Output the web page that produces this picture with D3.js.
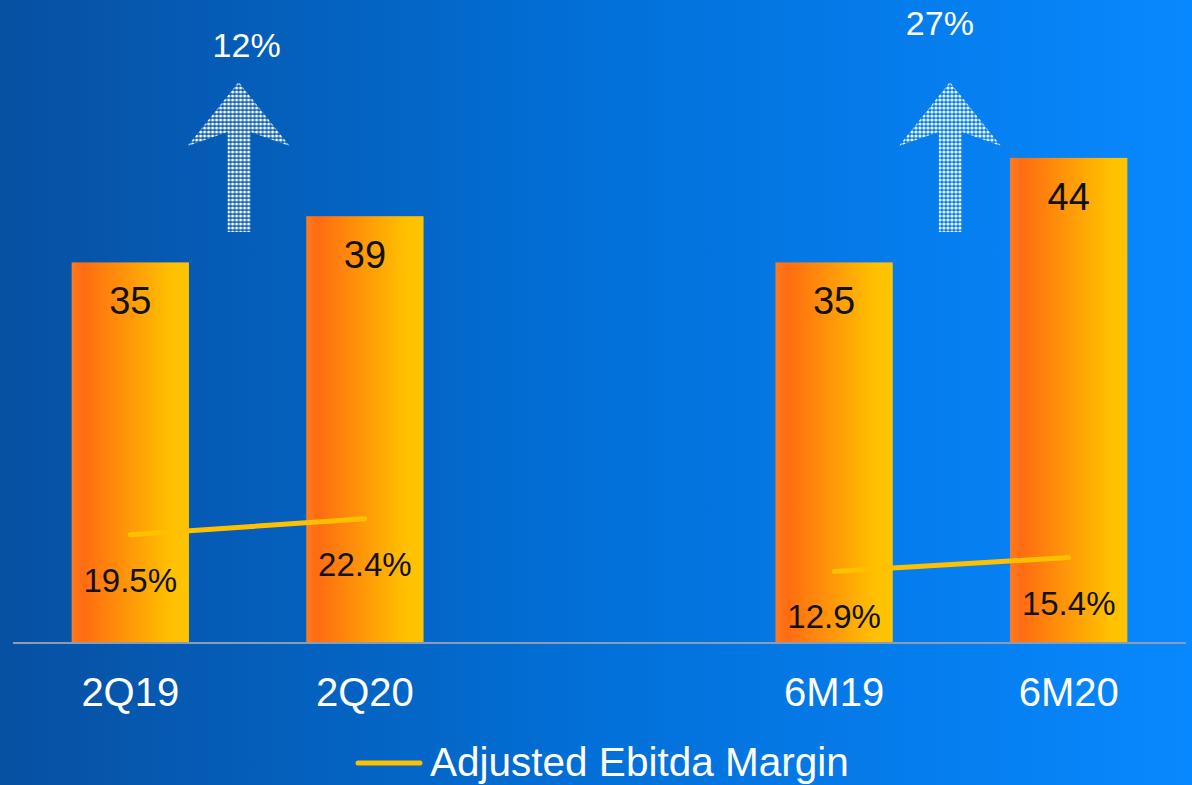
<!DOCTYPE html>
<html>
<head>
<meta charset="utf-8">
<script src="https://cdn.jsdelivr.net/npm/d3@7"></script>
<style>
  html, body { margin:0; padding:0; overflow:hidden; }
  text { font-family: "Liberation Sans", Arial, sans-serif; }
</style>
</head>
<body>
<div id="chart"></div>
<script>
var w=1192
var h=785

// categories (blank one is the gap between quarter and half year)
var categories=["2Q19","2Q20","","6M19","6M20"];
var ebitda=[34.6,38.8,null,34.6,44.1];
var margin=[19.5,22.4,null,12.9,15.4];
var growthLabels=["12%","27%"];
var growthPairs=[["2Q19","2Q20"],["6M19","6M20"]];
var legendLabel="Adjusted Ebitda Margin";

var rows=categories.map(function(c,i) {return {cat:c,value:ebitda[i],margin:margin[i]};});

var svg=d3.select("#chart")
          .append("svg")
          .attr("width",w)
          .attr("height",h);

var defs=svg.append("defs");

//background gradient
var bg=defs.append("linearGradient").attr("id","bg").attr("x1","0").attr("x2","1").attr("y1","0").attr("y2","0");
bg.append("stop").attr("offset","0%").attr("stop-color","#0750a2");
bg.append("stop").attr("offset","50%").attr("stop-color","#0270d8");
bg.append("stop").attr("offset","100%").attr("stop-color","#0888fe");

//bar gradient
var bar=defs.append("linearGradient").attr("id","barGrad").attr("x1","0").attr("x2","1").attr("y1","0").attr("y2","0");
bar.append("stop").attr("offset","0%").attr("stop-color","#ff7a1e");
bar.append("stop").attr("offset","10%").attr("stop-color","#ff6c12");
bar.append("stop").attr("offset","85%").attr("stop-color","#ffc000");
bar.append("stop").attr("offset","100%").attr("stop-color","#ffc400");

//dotted pattern for the arrows
var pat=defs.append("pattern").attr("id","dots").attr("patternUnits","userSpaceOnUse")
            .attr("width",4).attr("height",4);
pat.append("circle").attr("cx",2).attr("cy",2).attr("r",1.55).attr("fill","#ffffff");

svg.append("rect").attr("width",w).attr("height",h).attr("fill","url(#bg)");

//scales
var xScale=d3.scaleBand()
             .domain(categories)
             .range([13,1186])
             .paddingInner(0.5)
             .paddingOuter(0.25);
var yScale=d3.scaleLinear()
             .domain([0,50])
             .range([643,93]);
var y2Scale=d3.scaleLinear()
              .domain([0,100])
              .range([643,88]);

//bars
svg.selectAll("rect.bar")
   .data(rows.filter(function(d) {return d.value!=null;}))
   .enter()
   .append("rect")
   .attr("class","bar")
   .attr("x",function(d) {return xScale(d.cat);})
   .attr("y",function(d) {return yScale(d.value);})
   .attr("width",xScale.bandwidth())
   .attr("height",function(d) {return yScale(0)-yScale(d.value);})
   .attr("fill","url(#barGrad)");

//value labels
svg.selectAll("text.val")
   .data(rows.filter(function(d) {return d.value!=null;}))
   .enter()
   .append("text")
   .attr("class","val")
   .attr("x",function(d) {return xScale(d.cat)+xScale.bandwidth()/2;})
   .attr("y",function(d) {return yScale(d.value)+52;})
   .attr("text-anchor","middle")
   .attr("font-size","38px")
   .attr("fill","#111")
   .text(function(d) {return d3.format(".0f")(d.value);});

//x axis
var xAxis=d3.axisBottom(xScale).tickSize(0).tickPadding(35);
var gx=svg.append("g")
          .attr("transform","translate(0,"+yScale(0)+")")
          .call(xAxis);
gx.select(".domain").attr("stroke","#8a9cb6").attr("stroke-width",2).attr("d","M13,0H1186");
gx.selectAll("text")
  .attr("fill","#ffffff")
  .attr("font-size","40px")
  .attr("font-family","Liberation Sans, Arial, sans-serif");

//margin line
var line=d3.line()
           .defined(function(d) {return d.margin!=null;})
           .x(function(d) {return xScale(d.cat)+xScale.bandwidth()/2;})
           .y(function(d) {return y2Scale(d.margin);});
svg.append("path")
   .datum(rows)
   .attr("d",line)
   .attr("fill","none")
   .attr("stroke","#ffc000")
   .attr("stroke-width",5)
   .attr("stroke-linecap","round");

svg.selectAll("text.pct")
   .data(rows.filter(function(d) {return d.margin!=null;}))
   .enter()
   .append("text")
   .attr("class","pct")
   .attr("x",function(d) {return xScale(d.cat)+xScale.bandwidth()/2;})
   .attr("y",function(d) {return y2Scale(d.margin)+57;})
   .attr("text-anchor","middle")
   .attr("font-size","33px")
   .attr("fill","#111")
   .text(function(d) {return d3.format(".1f")(d.margin)+"%";});

//growth arrows
var arrowShape=[[0,0],[51,64],[12,50],[12,150],[-11,150],[-11,50],[-51,64]];
growthPairs.forEach(function(p,i) {
    var mid=(xScale(p[0])+xScale(p[1])+xScale.bandwidth())/2;
    var cx=i==0 ? mid-9 : mid-1.5;
    var g=svg.append("g").attr("transform","translate("+cx+",82)");
    g.append("path")
     .attr("d","M"+arrowShape.join("L")+"Z")
     .attr("fill","url(#dots)");
    g.append("text")
     .attr("x",i==0 ? 8 : -10)
     .attr("y",i==0 ? -25 : -47)
     .attr("text-anchor","middle")
     .attr("font-size","34px")
     .attr("fill","#ffffff")
     .text(growthLabels[i]);
});

//legend
var legend=svg.append("g").attr("transform","translate(358,763)");
legend.append("line")
      .attr("x1",0).attr("x2",62).attr("y1",0).attr("y2",0)
      .attr("stroke","#ffc000").attr("stroke-width",5).attr("stroke-linecap","round");
legend.append("text")
      .attr("x",72)
      .attr("y",13)
      .attr("font-size","40.5px")
      .attr("fill","#ffffff")
      .text(legendLabel);
</script>
</body>
</html>
